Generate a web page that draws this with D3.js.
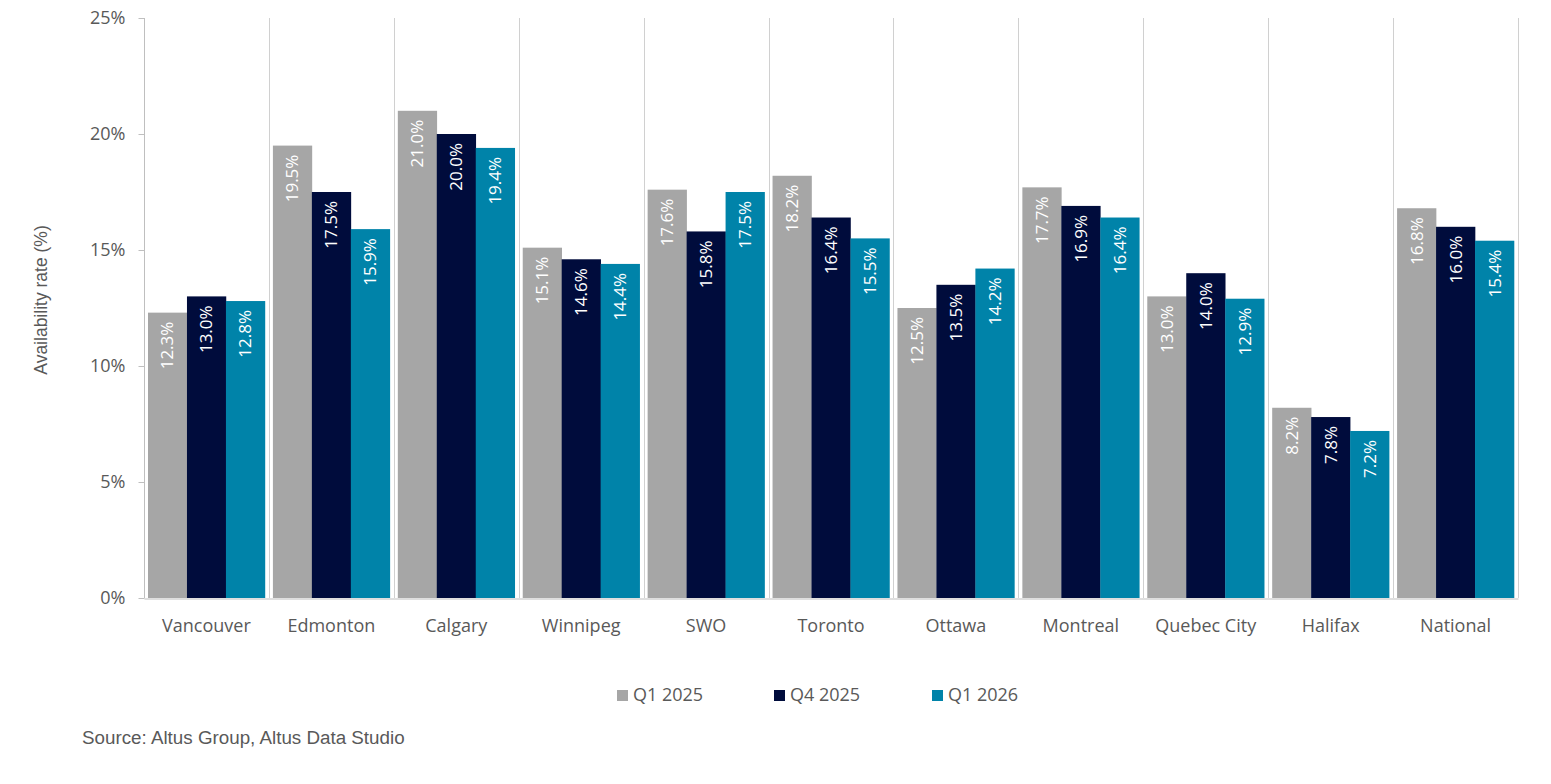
<!DOCTYPE html>
<html>
<head>
<meta charset="utf-8">
<script src="https://cdn.jsdelivr.net/npm/d3@7"></script>
<style>
  body { margin: 0; background: #fff; }
  svg { display: block; }
</style>
</head>
<body>
<svg></svg>
<script>
let cities = ["Vancouver", "Edmonton", "Calgary", "Winnipeg", "SWO", "Toronto", "Ottawa", "Montreal", "Quebec City", "Halifax", "National"]
let seriesNames = ["Q1 2025", "Q4 2025", "Q1 2026"]
let q1_2025 = [12.3, 19.5, 21.0, 15.1, 17.6, 18.2, 12.5, 17.7, 13.0, 8.2, 16.8]
let q4_2025 = [13.0, 17.5, 20.0, 14.6, 15.8, 16.4, 13.5, 16.9, 14.0, 7.8, 16.0]
let q1_2026 = [12.8, 15.9, 19.4, 14.4, 17.5, 15.5, 14.2, 16.4, 12.9, 7.2, 15.4]
let yTicks = [0, 5, 10, 15, 20, 25]
let colors = ["#a6a6a6", "#000c3c", "#0083a9"]

let width = 1551
let height = 784
let plotLeft = 144
let plotRight = 1518
let plotTop = 18
let plotBottom = 598

let labelFont = "'Open Sans', sans-serif"

let svg = d3.select("svg")
    .attr("width", width)
    .attr("height", height)

let allSeries = [q1_2025, q4_2025, q1_2026]

let xScale = d3.scaleBand()
    .domain(cities)
    .range([plotLeft, plotRight])
    .paddingInner(0)
    .paddingOuter(0)

let xInner = d3.scaleBand()
    .domain(seriesNames)
    .range([4, xScale.bandwidth() - 4])

let yScale = d3.scaleLinear()
    .domain([0, 25])
    .range([plotBottom, plotTop])

// vertical gridlines between categories
svg.append("g")
    .selectAll("line")
    .data(cities)
    .enter()
    .append("line")
    .attr("x1", (d) => Math.round(xScale(d) + xScale.bandwidth()) + 0.5)
    .attr("x2", (d) => Math.round(xScale(d) + xScale.bandwidth()) + 0.5)
    .attr("y1", plotTop)
    .attr("y2", plotBottom)
    .attr("stroke", "#d0d0d0")
    .attr("stroke-width", 1)

// bars
let groups = svg.append("g")
    .selectAll("g")
    .data(cities)
    .enter()
    .append("g")
    .attr("transform", (d) => "translate(" + xScale(d) + ",0)")

groups.selectAll("rect")
    .data((d, i) => allSeries.map((s, j) => ({ name: seriesNames[j], value: s[i], color: colors[j] })))
    .enter()
    .append("rect")
    .attr("x", (d) => xInner(d.name))
    .attr("width", xInner.bandwidth() + 0.3)
    .attr("y", (d) => yScale(d.value))
    .attr("height", (d) => plotBottom - yScale(d.value))
    .attr("fill", (d) => d.color)

// value labels, rotated, inside top of bar
groups.selectAll("text")
    .data((d, i) => allSeries.map((s, j) => ({ name: seriesNames[j], value: s[i] })))
    .enter()
    .append("text")
    .attr("transform", (d) => "translate(" + (xInner(d.name) + xInner.bandwidth() / 2 + 6) + "," + (yScale(d.value) + 9) + ") rotate(-90)")
    .attr("text-anchor", "end")
    .attr("fill", "#ffffff")
    .attr("font-family", labelFont)
    .attr("font-size", "17px")
    .text((d) => d.value.toFixed(1) + "%")

// y axis
let yAxis = d3.axisLeft(yScale)
    .tickValues(yTicks)
    .tickSize(6)
    .tickFormat((d) => d + "%")

let yG = svg.append("g")
    .attr("transform", "translate(" + (plotLeft + 0.5) + ",0)")
    .call(yAxis)
yG.select(".domain").attr("stroke", "#bfbfbf").attr("d", "M0," + plotTop + "V" + plotBottom)
yG.selectAll(".tick line").attr("stroke", "#bfbfbf")
yG.selectAll(".tick text")
    .attr("fill", "#595959")
    .attr("font-family", labelFont)
    .attr("font-size", "18px")
    .attr("x", -19)

// x axis
let xAxis = d3.axisBottom(xScale).tickSize(0).tickPadding(21)
let xG = svg.append("g")
    .attr("transform", "translate(0," + (plotBottom + 0.5) + ")")
    .call(xAxis)
xG.select(".domain").attr("stroke", "#bfbfbf")
xG.selectAll(".tick text")
    .attr("fill", "#595959")
    .attr("font-family", labelFont)
    .attr("font-size", "18px")

// y title
svg.append("text")
    .attr("transform", "translate(47,300) rotate(-90)")
    .attr("text-anchor", "middle")
    .attr("fill", "#595959")
    .attr("font-family", "'Liberation Sans', Arial, sans-serif")
    .attr("font-size", "17.5px")
    .text("Availability rate (%)")

// legend
let legendX = [617, 774, 932]
let legend = svg.append("g")
    .selectAll("g")
    .data(seriesNames)
    .enter()
    .append("g")
    .attr("transform", (d, i) => "translate(" + legendX[i] + ",690)")
legend.append("rect")
    .attr("x", 0)
    .attr("y", 0)
    .attr("width", 11)
    .attr("height", 11)
    .attr("fill", (d, i) => colors[i])
legend.append("text")
    .attr("x", 16)
    .attr("y", 11)
    .attr("fill", "#595959")
    .attr("font-family", labelFont)
    .attr("font-size", "18px")
    .text((d) => d)

// source
svg.append("text")
    .attr("x", 82)
    .attr("y", 744)
    .attr("fill", "#595959")
    .attr("font-family", "'Liberation Sans', Arial, sans-serif")
    .attr("font-size", "18.8px")
    .text("Source: Altus Group, Altus Data Studio")
</script>
</body>
</html>
